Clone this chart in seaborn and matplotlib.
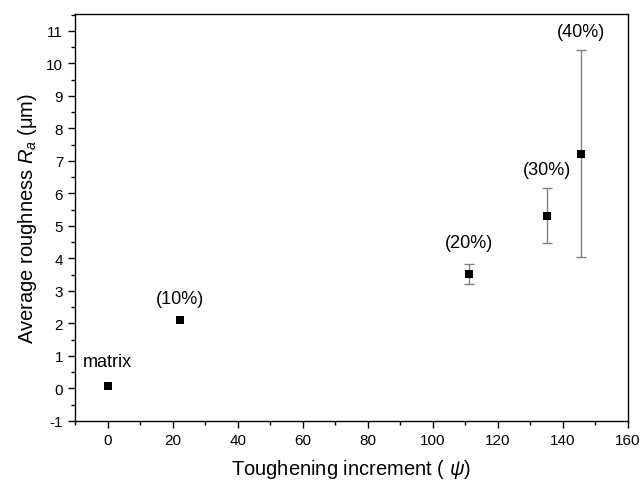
import matplotlib
matplotlib.use("Agg")
import matplotlib.pyplot as plt
import seaborn as sns
import pandas as pd
from matplotlib.ticker import MultipleLocator

labels = ["matrix", "(10%)", "(20%)", "(30%)", "(40%)"]
psi = [0.0, 22.3, 111.0, 135.0, 145.6]
ra = [0.07, 2.10, 3.52, 5.32, 7.22]
ra_err = [0.0, 0.0, 0.30, 0.85, 3.18]
label_y = [0.82, 2.78, 4.48, 6.75, 10.99]

df = pd.DataFrame({"psi": psi, "ra": ra, "err": ra_err, "label": labels})

sns.set_style("ticks")
plt.rcParams["font.family"] = ["Liberation Sans", "DejaVu Sans"]
plt.rcParams["mathtext.fontset"] = "custom"
plt.rcParams["mathtext.it"] = "Liberation Sans:italic"
plt.rcParams["mathtext.rm"] = "Liberation Sans"
plt.rcParams["axes.unicode_minus"] = False
plt.rcParams["text.color"] = "black"
plt.rcParams["axes.labelcolor"] = "black"

fig = plt.figure(figsize=(6.44, 4.85), dpi=100)
ax = fig.add_axes([75/644, 1 - 422/485, (628-75)/644, (422-15)/485])

sub = df[df["err"] > 0]
ax.errorbar(sub["psi"], sub["ra"], yerr=sub["err"], fmt="none",
            ecolor="#808080", elinewidth=1.0, capsize=3.5, capthick=1.0, zorder=2)
sns.scatterplot(data=df, x="psi", y="ra", marker="s", color="black",
                s=40, edgecolor="black", linewidth=0, ax=ax, zorder=3)

for x, yl, t in zip(psi, label_y, labels):
    ax.text(x, yl, t, ha="center", va="center", fontsize=13, color="black")

ax.set_xlim(-10, 160)
ax.set_ylim(-1, 11.52)
ax.xaxis.set_major_locator(MultipleLocator(20))
ax.xaxis.set_minor_locator(MultipleLocator(10))
ax.yaxis.set_major_locator(MultipleLocator(1))
ax.yaxis.set_minor_locator(MultipleLocator(0.5))
ax.tick_params(which="major", direction="out", length=5, width=1, labelsize=11,
               colors="black", labelcolor="black")
ax.tick_params(which="minor", direction="out", length=3, width=1, colors="black")
for s in ax.spines.values():
    s.set_visible(True)
    s.set_linewidth(1.0)
    s.set_color("black")

ax.set_xlabel("Toughening increment ( $\\psi$)", fontsize=14.5, labelpad=7)
ax.set_ylabel("Average roughness $R_a$ (\u03bcm)", fontsize=14.5, labelpad=5)

fig.savefig("out.png", dpi=100)
